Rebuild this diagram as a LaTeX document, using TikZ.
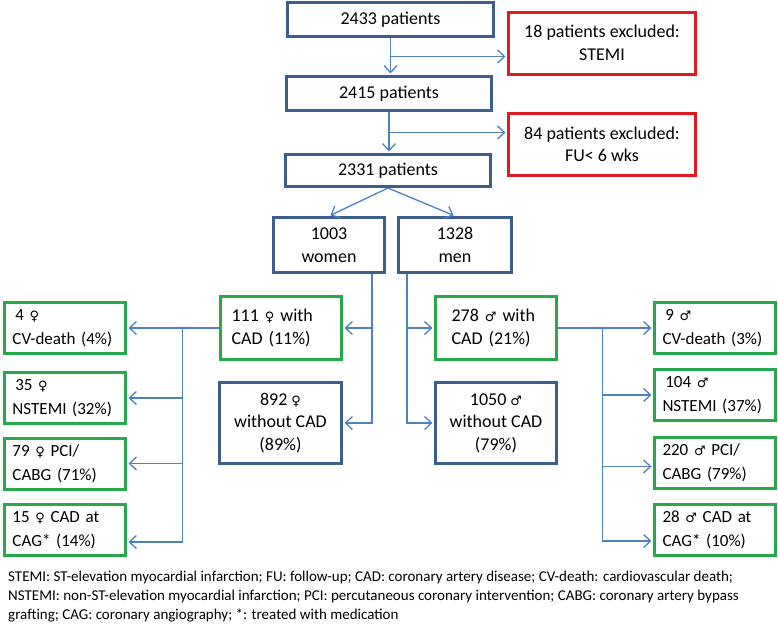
\documentclass[tikz,border=0pt]{standalone}
\usepackage{fontspec}
\setmainfont{Carlito}
\newfontfamily\symfont{DejaVu Sans}
\usetikzlibrary{arrows.meta,calc}
\definecolor{cBLU}{HTML}{3B5E8D}
\definecolor{cRED}{HTML}{E01A1E}
\definecolor{cGRN}{HTML}{25A94B}
\definecolor{cARR}{HTML}{4F81BD}
\newcommand{\fem}{{\symfont\fontsize{13}{13}\selectfont ♀}}
\newcommand{\mal}{{\symfont\fontsize{13}{13}\selectfont ♂}}
\tikzset{
  box/.style={draw, line width=3pt, inner sep=0pt, align=center},
  blubox/.style={box, draw=cBLU},
  redbox/.style={box, draw=cRED, minimum width=187pt, minimum height=62pt},
  grnbox/.style={box, draw=cGRN, align=left, inner xsep=11pt, text width=99pt, minimum height=63pt},
  sidebox/.style={minimum height=51pt, inner xsep=8pt, text width=105pt, font=\fontsize{17}{24}\selectfont},
  arr/.style={->, draw=cARR, line width=1.3pt, shorten >=1.5pt}
}

\begin{document}
\begin{tikzpicture}[x=1pt, y=-1pt, font=\fontsize{18}{22.5}\selectfont, >={Straight Barb[length=7pt,width=13pt]}]
\useasboundingbox (0,0) rectangle (778,627);
% screening
\node[blubox, minimum width=206pt, minimum height=34pt] (p2433) at (390.5,19.5) {2433 patients};
\node[blubox, minimum width=205pt, minimum height=34pt] (p2415) at (389,93.5) {2415 patients};
\node[blubox, minimum width=205pt, minimum height=32pt] (p2331) at (388,170.5) {2331 patients};
\node[redbox] (xSTEMI) at (602,43) {18 patients excluded:\\ STEMI};
\node[redbox] (xFU) at (602,144.5) {84 patients excluded:\\ FU< 6 wks};
% sex
\node[blubox, minimum width=111pt, minimum height=55pt] (women) at (329,245) {1003\\ women};
\node[blubox, minimum width=113pt, minimum height=55pt] (men) at (455,245) {1328\\ men};
\node[grnbox] (wCAD) at (281,328) {111 \fem{} with\\ CAD (11\%)};
\node[blubox, minimum width=122pt, minimum height=81pt] (wNo) at (280.5,423) {892 \fem\\ without CAD\\ (89\%)};
\node[grnbox, inner xsep=16pt, text width=89pt] (mCAD) at (496,328) {278 \mal{} with\\ CAD (21\%)};
\node[blubox, minimum width=121pt, minimum height=81pt] (mNo) at (496,423) {1050 \mal\\ without CAD\\ (79\%)};
% outcomes
\foreach \k/\y/\t in {1/328/{\,4 \fem\\ CV-death (4\%)}, 2/398/{\,35 \fem\\ NSTEMI (32\%)}, 3/463.5/{79 \fem{} PCI/\\ CABG (71\%)}, 4/530/{15 \fem{} CAD at\\ CAG* (14\%)}}
  \node[grnbox, sidebox] (w\k) at (65,\y) {\t};
\foreach \k/\y/\t in {1/328/{\,9 \mal\\ CV-death (3\%)}, 2/395/{\,104 \mal\\ NSTEMI (37\%)}, 3/462.5/{220 \mal{} PCI/\\ CABG (79\%)}, 4/530/{28 \mal{} CAD at\\ CAG* (10\%)}}
  \node[grnbox, sidebox] (m\k) at (715,\y) {\t};

\draw[arr] (p2433.south) -- (p2433.south |- p2415.north);
\coordinate (b1) at ($(p2433.south)!.5!(p2415.north)$);
\draw[arr] (b1) -- (b1 -| xSTEMI.west);
\draw[arr] (p2415.south) -- (p2415.south |- p2331.north);
\coordinate (b2) at ($(p2415.south)!.5!(p2331.north)$);
\draw[arr] (b2) -- (b2 -| xFU.west);
\draw[arr] (p2331.south) -- (women.north);
\draw[arr] (p2331.south) -- (men.north);

\coordinate (wj) at ([xshift=-14pt]women.south east);
\draw[arr] (wj) |- (wCAD.east);
\draw[arr] (wj) |- (wNo.east);
\coordinate (mj) at ([xshift=10pt]men.south west);
\draw[arr] (mj) |- (mCAD.west);
\draw[arr] (mj) |- (mNo.west);

\draw[arr] (wCAD.west) -- (w1.east);
\coordinate (wk) at ($(wCAD.west)!.40!(w1.east)$);
\foreach \k/\s in {2/0,3/0,4/-12}
  \draw[arr] (wk) |- ([yshift=\s pt]w\k.east);
\draw[arr] (mCAD.east) -- (m1.west);
\coordinate (mk) at ($(mCAD.east)!.47!(m1.west)$);
\foreach \k/\s in {2/0,3/-4,4/-11}
  \draw[arr] (mk) |- ([yshift=\s pt]m\k.west);

\node[anchor=north west, align=left, inner sep=0pt, font=\fontsize{15}{19}\selectfont] (key) at (8,571) {STEMI: ST-elevation myocardial infarction; FU: follow-up; CAD: coronary artery disease; CV-death: cardiovascular death;\\ NSTEMI: non-ST-elevation myocardial infarction; PCI: percutaneous coronary intervention; CABG: coronary artery bypass\\ grafting; CAG: coronary angiography; *: treated with medication};
\end{tikzpicture}
\end{document}
